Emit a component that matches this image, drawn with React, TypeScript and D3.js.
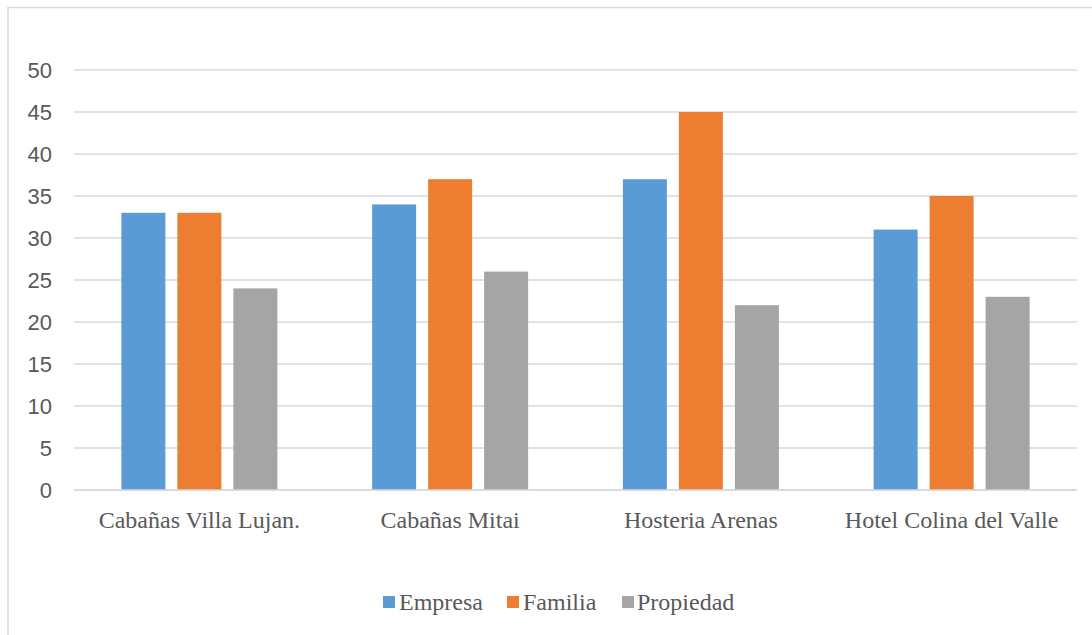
import React from "react";
import * as d3 from "d3";

const categories = ["Cabañas Villa Lujan.", "Cabañas Mitai", "Hosteria Arenas", "Hotel Colina del Valle"];
const seriesNames = ["Empresa", "Familia", "Propiedad"];
const empresa = [33, 34, 37, 31];
const familia = [33, 37, 45, 35];
const propiedad = [24, 26, 22, 23];
const yTicks = [0, 5, 10, 15, 20, 25, 30, 35, 40, 45, 50];
const colors = ["#5B9BD5", "#ED7D31", "#A5A5A5"];

const W = 1092;
const H = 635;
const left = 74;
const right = 1077;
const top = 70;
const bottom = 490;

export default function App() {
  const series = [empresa, familia, propiedad];
  const x = d3.scaleBand<string>().domain(categories).range([left, right]).paddingInner(0).paddingOuter(0);
  const y = d3.scaleLinear().domain([0, 50]).range([bottom, top]);
  const bw = x.bandwidth();
  const barW = 44;
  const gap = 12;
  const groupW = barW * 3 + gap * 2;

  const legendItems = [
    { name: seriesNames[0], sx: 383, tx: 399 },
    { name: seriesNames[1], sx: 507, tx: 523 },
    { name: seriesNames[2], sx: 622, tx: 637 },
  ];

  return (
    <div style={{ position: "absolute", left: 0, top: 0 }}>
      <svg width={W} height={H} style={{ display: "block" }}>
        <rect x={0} y={0} width={W} height={H} fill="#fff" />
        <rect x={8} y={7.5} width={W + 10} height={H + 10} fill="none" stroke="#d9d9d9" strokeWidth={1.5} />
        {yTicks.map((t) => (
          <g key={t}>
            <line x1={left} x2={right} y1={y(t)} y2={y(t)} stroke="#d9d9d9" strokeWidth={1.5} />
            <text
              x={52}
              y={y(t)}
              dy="0.36em"
              textAnchor="end"
              fontFamily="'Liberation Sans', Arial, sans-serif"
              fontSize={22}
              fill="#595959"
            >
              {t}
            </text>
          </g>
        ))}
        {categories.map((c, i) => {
          const cx = (x(c) as number) + bw / 2;
          const x0 = cx - groupW / 2;
          return (
            <g key={c}>
              {series.map((s, j) => (
                <rect
                  key={j}
                  x={x0 + j * (barW + gap)}
                  y={y(s[i])}
                  width={barW}
                  height={y(0) - y(s[i])}
                  fill={colors[j]}
                />
              ))}
              <text
                x={cx}
                y={528}
                textAnchor="middle"
                fontFamily="'Liberation Serif', 'Times New Roman', serif"
                fontSize={24}
                fill="#595959"
              >
                {c}
              </text>
            </g>
          );
        })}
        <line x1={left} x2={right} y1={y(0)} y2={y(0)} stroke="#d9d9d9" strokeWidth={1.5} />
        {legendItems.map((l, i) => (
          <g key={l.name}>
            <rect x={l.sx} y={596} width={12} height={12} fill={colors[i]} />
            <text
              x={l.tx}
              y={610}
              fontFamily="'Liberation Serif', 'Times New Roman', serif"
              fontSize={24}
              fill="#595959"
            >
              {l.name}
            </text>
          </g>
        ))}
      </svg>
    </div>
  );
}
